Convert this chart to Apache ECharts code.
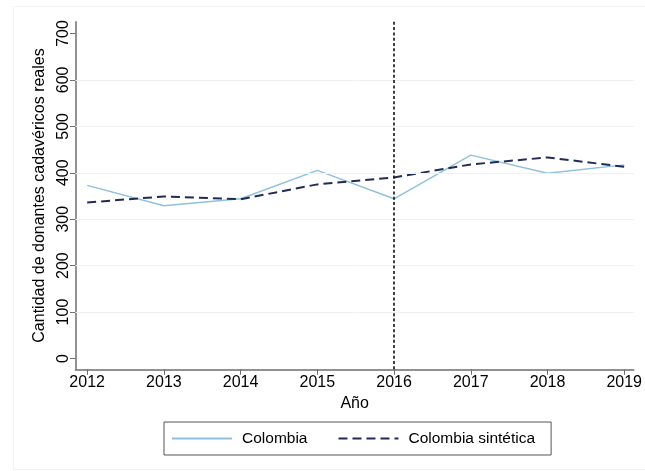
<!DOCTYPE html>
<html>
<head>
<meta charset="utf-8">
<script src="https://cdn.jsdelivr.net/npm/echarts@6/dist/echarts.min.js"></script>
<style>
  html, body { margin: 0; padding: 0; background: #ffffff; }
  #chart { width: 645px; height: 471px; }
</style>
</head>
<body>
<div id="chart"></div>
<script>
// Years on the horizontal axis
const years = [2012, 2013, 2014, 2015, 2016, 2017, 2018, 2019];
// Real deceased donors, Colombia
const colombia = [373, 329, 344, 405, 344, 438, 399, 417];
// Synthetic control estimate
const colombiaSintetica = [336, 349, 343, 375, 390, 418, 433, 413];
// Y axis tick values and interior grid lines
const yTicks = [0, 100, 200, 300, 400, 500, 600, 700];
const yGrid = [100, 200, 300, 400, 500, 600];
// Year of the intervention
const interventionYear = 2016;

const FONT = '"Liberation Sans", Arial, Helvetica, sans-serif';
const AXIS_COLOR = '#6e6e6e';

const chart = echarts.init(document.getElementById('chart'), null, { renderer: 'canvas' });

const pairs = arr => years.map((y, i) => [y, arr[i]]);

chart.setOption({
  backgroundColor: '#ffffff',
  animation: false,
  textStyle: { fontFamily: FONT },
  graphic: [{
    type: 'rect',
    shape: { x: 13.5, y: 6.5, width: 640, height: 463 },
    style: { fill: 'none', stroke: '#f3f3f3', lineWidth: 1 },
    silent: true, z: -1
  }],
  grid: { left: 75.5, right: 6, top: 21.7, bottom: 101.7 },
  xAxis: {
    type: 'value',
    min: 2011.848,
    max: 2019.125,
    name: 'Año',
    nameLocation: 'middle',
    nameGap: 25,
    nameTextStyle: { fontSize: 16, color: '#000', fontFamily: FONT },
    axisLine: { show: true, onZero: false, lineStyle: { color: AXIS_COLOR, width: 1.5 } },
    axisTick: { show: true, length: 5.5, customValues: years, lineStyle: { color: AXIS_COLOR, width: 1 } },
    axisLabel: { customValues: years, margin: 5, fontSize: 16, color: '#000', fontFamily: FONT,
                 formatter: v => String(v) },
    splitLine: { show: false }
  },
  yAxis: {
    type: 'value',
    min: -23.3,
    max: 725.4,
    name: 'Cantidad de donantes cadavéricos reales',
    nameLocation: 'middle',
    nameGap: 25,
    nameTextStyle: { fontSize: 16, color: '#000', fontFamily: FONT },
    axisLine: { show: true, onZero: false, lineStyle: { color: AXIS_COLOR, width: 1.5 } },
    axisTick: { show: true, length: 5.5, customValues: yTicks, lineStyle: { color: AXIS_COLOR, width: 1 } },
    axisLabel: { customValues: yTicks, rotate: 90, margin: 4, fontSize: 16, color: '#000', fontFamily: FONT },
    splitLine: { show: false }
  },
  legend: {
    left: 164,
    top: 422,
    orient: 'horizontal',
    itemWidth: 60,
    itemHeight: 16,
    itemGap: 30,
    padding: [8.5, 16, 8.5, 7],
    borderColor: '#555555',
    borderWidth: 1,
    borderRadius: 0,
    textStyle: { fontSize: 15.5, color: '#000', fontFamily: FONT, padding: [0, 0, 0, 5] },
    itemStyle: { opacity: 0 },
    data: ['Colombia', 'Colombia sintética']
  },
  series: [
    {
      name: 'grid',
      type: 'line',
      data: [],
      silent: true,
      z: 1,
      markLine: {
        silent: true,
        symbol: 'none',
        label: { show: false },
        lineStyle: { color: '#edf1f4', width: 1, type: 'solid' },
        data: yGrid.map(v => ({ yAxis: v }))
      }
    },
    {
      name: 'Colombia',
      type: 'line',
      data: pairs(colombia),
      symbol: 'none',
      z: 3,
      lineStyle: { color: '#8ec1da', width: 1.4, type: 'solid' },
      itemStyle: { color: '#8ec1da' },
      markLine: {
        silent: true,
        symbol: 'none',
        label: { show: false },
        lineStyle: { color: '#111111', width: 1.6, type: [3, 2.3] },
        data: [{ xAxis: interventionYear }]
      }
    },
    {
      name: 'Colombia sintética',
      type: 'line',
      data: pairs(colombiaSintetica),
      symbol: 'none',
      z: 4,
      lineStyle: { color: '#222a55', width: 2, type: [9, 5] },
      itemStyle: { color: '#222a55' }
    }
  ]
});
</script>
</body>
</html>
